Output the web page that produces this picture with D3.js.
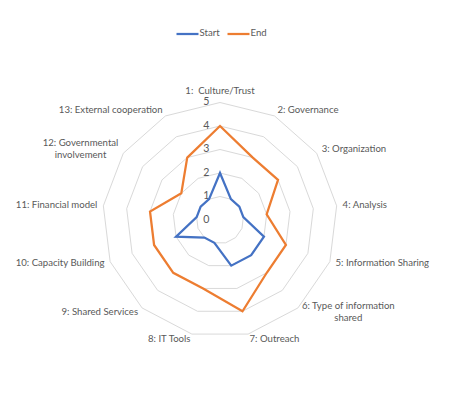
<!DOCTYPE html>
<html>
<head>
<meta charset="utf-8">
<script src="https://cdn.jsdelivr.net/npm/d3@7/dist/d3.min.js"></script>
<style>
	body { margin: 0; background: #fff; }
	svg text { font-family: Lato, "Liberation Sans", Arial, sans-serif; fill: #595959; white-space: pre; }
</style>
</head>
<body>
<svg id="radar" width="453" height="394"></svg>
<script>
const categories = [
	["1:  Culture/Trust"],
	["2: Governance"],
	["3: Organization"],
	["4: Analysis"],
	["5: Information Sharing"],
	["6: Type of information", "shared"],
	["7: Outreach"],
	["8: IT Tools"],
	["9: Shared Services"],
	["10: Capacity Building"],
	["11: Financial model"],
	["12: Governmental", "involvement"],
	["13: External cooperation"]
];
const startValues = [2, 1, 1, 1, 2, 2, 2, 1, 1, 2, 1, 1, 1];
const endValues = [4, 3, 3, 2, 3, 3, 4, 3, 3, 3, 3, 2, 3];
const ticks = [0, 1, 2, 3, 4, 5];
const seriesNames = ["Start", "End"];
const seriesColors = ["#4472C4", "#ED7D31"];

const cx = 220, cy = 220, radius = 117.5;
const fontSize = 9.6;

const svg = d3.select("#radar");
const n = categories.length;
const r = d3.scaleLinear().domain([0, 5]).range([0, radius]);
const angle = i => i * 2 * Math.PI / n;
const point = (i, v) => [cx + Math.sin(angle(i)) * r(v), cy - Math.cos(angle(i)) * r(v)];

// grid rings
const grid = svg.append("g").attr("class", "grid");
ticks.filter(t => t > 0).forEach(t => {
	grid.append("polygon")
		.attr("points", d3.range(n).map(i => point(i, t).join(",")).join(" "))
		.attr("fill", "none").attr("stroke", "#d9d9d9").attr("stroke-width", 1);
});

// tick labels along the first axis
svg.append("g").selectAll("text").data(ticks).enter().append("text")
	.attr("x", cx - 10.5).attr("y", t => cy - r(t))
	.attr("text-anchor", "end").attr("dominant-baseline", "middle")
	.attr("font-size", fontSize + 1).text(t => t);

// series lines
const line = d3.line().x(d => d[0]).y(d => d[1]).curve(d3.curveLinearClosed);
[startValues, endValues].forEach((vals, s) => {
	svg.append("path")
		.attr("d", line(vals.map((v, i) => point(i, v))))
		.attr("fill", "none").attr("stroke", seriesColors[s])
		.attr("stroke-width", 2.25).attr("stroke-linejoin", "miter");
});

// category labels
const labels = svg.append("g").attr("class", "labels");
categories.forEach((lines, i) => {
	const [px, py] = point(i, 5 + 6 / r(1));
	const sx = Math.sin(angle(i));
	const lh = fontSize * 1.25;
	const t = labels.append("text").attr("font-size", fontSize).attr("text-anchor", "middle");
	lines.forEach(l => t.append("tspan").text(l));
	// widest line decides where the block sits
	const w = d3.max(t.selectAll("tspan").nodes(), node => node.getComputedTextLength());
	let x = px;
	if(sx > 0.1) x = px + w / 2;
	else if(sx < -0.1) x = px - w / 2;
	let y0 = py - (lines.length - 1) * lh / 2;
	if(Math.abs(sx) <= 0.1) y0 = py - 5;
	t.selectAll("tspan").attr("x", x).attr("y", (d, k) => y0 + k * lh).attr("dominant-baseline", "middle");
});

// legend
const legend = svg.append("g").attr("class", "legend");
const legX = [176.5, 227.5];
seriesNames.forEach((name, s) => {
	legend.append("line").attr("x1", legX[s]).attr("x2", legX[s] + 22)
		.attr("y1", 34).attr("y2", 34).attr("stroke", seriesColors[s]).attr("stroke-width", 2.25);
	legend.append("text").attr("x", legX[s] + 23).attr("y", 34)
		.attr("dominant-baseline", "middle").attr("font-size", fontSize).text(name);
});
</script>
</body>
</html>
